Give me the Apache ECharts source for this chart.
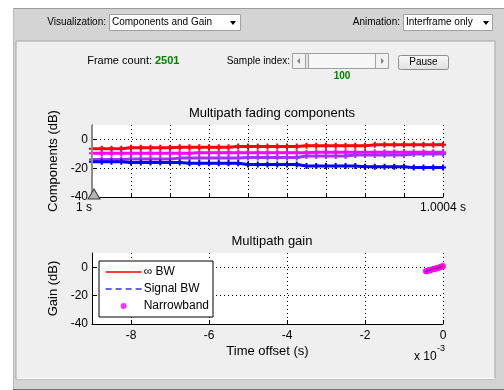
<!DOCTYPE html>
<html>
<head>
<meta charset="utf-8">
<style>
  html, body { margin: 0; padding: 0; background: #ffffff; }
  #chart { width: 504px; height: 390px; }
</style>
<script src="https://cdn.jsdelivr.net/npm/echarts@6/dist/echarts.min.js"></script>
</head>
<body>
<div id="chart"></div>
<script>
// ---- multipath fading components (dB) over the frame, sampled every quarter grid step ----
const frameStep = [0,0.25,0.5,0.75,1,1.25,1.5,1.75,2,2.25,2.5,2.75,3,3.25,3.5,3.75,4,4.25,4.5,4.75,5,5.25,5.5,5.75,6,6.25,6.5,6.75,7,7.25,7.5,7.75,8,8.25,8.5,8.75,9];
const path1Db = [-6.5,-6.5,-6.5,-6.5,-5.8,-5.8,-5.8,-5.8,-5.8,-5.4,-5.4,-5.4,-5.4,-5.4,-5.4,-4.9,-4.9,-4.9,-4.9,-4.9,-4.9,-4.9,-4.4,-4.4,-4.4,-4.4,-4.4,-4.4,-4.4,-3.8,-3.8,-3.8,-3.8,-3.8,-3.8,-3.8,-3.8];
const path2Db = [-9.6,-9.6,-9.6,-9.6,-9.6,-9.6,-9.6,-9.6,-9.6,-9.6,-9.6,-9.3,-9.3,-9.3,-9.3,-9.3,-9.3,-9.3,-9.3,-9.3,-9.3,-9.3,-9.3,-9.0,-9.0,-9.0,-9.0,-9.0,-9.0,-9.0,-9.0,-9.0,-9.0,-9.0,-9.0,-9.0,-9.0];
const path3Db = [-14.0,-14.0,-14.0,-14.0,-13.6,-13.6,-13.6,-13.6,-13.6,-13.0,-13.0,-13.0,-13.0,-13.0,-13.0,-13.0,-12.5,-12.5,-12.5,-12.5,-12.5,-12.5,-11.5,-11.5,-11.5,-11.5,-11.5,-10.8,-10.8,-10.8,-10.8,-10.8,-10.8,-10.2,-10.2,-10.2,-10.2];
const path4Db = [-15.5,-15.5,-15.5,-15.5,-16.0,-16.0,-16.0,-16.0,-16.0,-16.0,-16.6,-16.6,-16.6,-16.6,-16.6,-16.6,-17.4,-17.4,-17.4,-17.4,-17.4,-17.4,-18.5,-18.5,-18.5,-18.5,-18.5,-18.5,-19.0,-19.0,-19.0,-19.0,-19.0,-19.6,-19.6,-19.6,-19.6];
const frameTickLabels = { 0: '1 s', 9: '1.0004 s' };
const sampleMarker = 0;

// ---- multipath gain history (time offset in ms, gain in dB) ----
const gainTime = [-0.44,-0.42,-0.40,-0.38,-0.36,-0.34,-0.32,-0.30,-0.28,-0.26,-0.24,-0.22,-0.20,-0.18,-0.16,-0.14,-0.12,-0.10,-0.08,-0.06,-0.04,-0.02,0];
const gainDb   = [-2.9,-2.8,-2.6,-2.4,-2.2,-2.1,-1.9,-1.8,-1.6,-1.5,-1.3,-1.2,-1.0,-0.9,-0.7,-0.6,-0.4,-0.3,-0.1,0.1,0.3,0.6,0.9];
const gainTicks = [-8,-6,-4,-2,0];
const dbTicks = [-40,-20,0];

const pts = (xs, ys) => xs.map((x, i) => [x, ys[i]]);
const plusSymbol = 'path://M2,0H4V2H6V4H4V6H2V4H0V2H2Z';
const axisFont = { color: '#000', fontFamily: 'Liberation Sans, Arial, sans-serif', fontSize: 12 };
const uiFont = 'Liberation Sans, Arial, sans-serif';
const dotted = { show: true, lineStyle: { color: '#000', type: [1, 3], width: 1 } };

function valueAxisBase(extra) {
  return Object.assign({
    type: 'value',
    axisLine: { show: true, onZero: false, lineStyle: { color: '#000', width: 1 } },
    axisTick: { show: true, inside: true, length: 4, lineStyle: { color: '#000' } },
    axisLabel: Object.assign({ margin: 5 }, axisFont),
    splitLine: dotted,
    nameTextStyle: Object.assign({}, axisFont, { fontSize: 13 })
  }, extra);
}

const chart = echarts.init(document.getElementById('chart'), null, { renderer: 'canvas' });

const option = {
  animation: false,
  backgroundColor: '#ffffff',
  title: [
    { text: 'Multipath fading components', left: 267, top: 102, textAlign: 'center',
      textStyle: { fontFamily: uiFont, fontSize: 13, fontWeight: 'normal', color: '#000' } },
    { text: 'Multipath gain', left: 267, top: 230, textAlign: 'center',
      textStyle: { fontFamily: uiFont, fontSize: 13, fontWeight: 'normal', color: '#000' } }
  ],
  grid: [
    { left: 92, top: 125, width: 351, height: 72, show: true, backgroundColor: '#ffffff', borderWidth: 0 },
    { left: 92, top: 253, width: 351, height: 71, show: true, backgroundColor: '#ffffff', borderWidth: 0 }
  ],
  xAxis: [
    valueAxisBase({
      gridIndex: 0, min: 0, max: 9, interval: 1,
      axisLabel: Object.assign({ margin: 5, showMinLabel: true, showMaxLabel: true,
        formatter: v => frameTickLabels[v] || '', alignMinLabel: 'right' }, axisFont)
    }),
    valueAxisBase({
      gridIndex: 1, min: -9, max: 0,
      axisTick: { show: true, inside: true, length: 4, lineStyle: { color: '#000' }, customValues: gainTicks },
      axisLabel: Object.assign({ margin: 6, customValues: gainTicks }, axisFont),
      name: 'Time offset (s)', nameLocation: 'middle', nameGap: 21
    })
  ],
  yAxis: [
    valueAxisBase({
      gridIndex: 0, min: -40, max: 10,
      axisTick: { show: true, inside: true, length: 4, lineStyle: { color: '#000' }, customValues: dbTicks },
      axisLabel: Object.assign({ margin: 4, customValues: dbTicks }, axisFont),
      name: 'Components (dB)', nameLocation: 'middle', nameGap: 18, nameRotate: 90
    }),
    valueAxisBase({
      gridIndex: 1, min: -40, max: 10,
      axisTick: { show: true, inside: true, length: 4, lineStyle: { color: '#000' }, customValues: dbTicks },
      axisLabel: Object.assign({ margin: 4, customValues: dbTicks }, axisFont),
      name: 'Gain (dB)', nameLocation: 'middle', nameGap: 18, nameRotate: 90
    })
  ],
  legend: {
    data: [
      { name: '∞ BW', itemStyle: { opacity: 0 }, lineStyle: { opacity: 1 } },
      { name: 'Signal BW', itemStyle: { opacity: 0 }, lineStyle: { opacity: 1 } },
      { name: 'Narrowband' }
    ],
    orient: 'vertical', left: 99, top: 261,
    backgroundColor: '#ffffff', borderColor: '#000', borderWidth: 1, borderRadius: 0,
    padding: [5, 4, 5, 6], itemWidth: 36, itemHeight: 6, itemGap: 5,
    lineStyle: { width: 1.3, opacity: 1 },
    textStyle: { fontFamily: uiFont, fontSize: 12, color: '#000', padding: [0, 0, 0, -3] },
    selectedMode: false
  },
  series: [
    { name: 'Path 1', type: 'line', xAxisIndex: 0, yAxisIndex: 0, data: pts(frameStep, path1Db),
      color: '#ff0000', lineStyle: { width: 3 }, symbol: plusSymbol, symbolSize: 6, showAllSymbol: true,
      markLine: { silent: true, symbol: 'none', label: { show: false },
        lineStyle: { color: '#8c8c8c', width: 2, type: 'solid' }, data: [{ xAxis: sampleMarker }] },
      markPoint: { silent: true, symbol: 'triangle', symbolSize: [12, 10], symbolOffset: [2, -3],
        label: { show: false }, itemStyle: { color: '#b4b4b4', borderColor: '#3c3c3c', borderWidth: 1 },
        data: [{ coord: [sampleMarker, -40] }] } },
    { name: 'Path 2', type: 'line', xAxisIndex: 0, yAxisIndex: 0, data: pts(frameStep, path2Db),
      color: '#ff00ff', lineStyle: { width: 3 }, symbol: plusSymbol, symbolSize: 6, showAllSymbol: true },
    { name: 'Path 3', type: 'line', xAxisIndex: 0, yAxisIndex: 0, data: pts(frameStep, path3Db),
      color: '#a030ff', lineStyle: { width: 3 }, symbol: plusSymbol, symbolSize: 6, showAllSymbol: true },
    { name: 'Path 4', type: 'line', xAxisIndex: 0, yAxisIndex: 0, data: pts(frameStep, path4Db),
      color: '#0000ff', lineStyle: { width: 3 }, symbol: plusSymbol, symbolSize: 6, showAllSymbol: true },

    { name: '∞ BW', type: 'line', xAxisIndex: 1, yAxisIndex: 1, data: pts(gainTime, gainDb),
      color: '#ff0000', lineStyle: { width: 1 }, symbol: 'none' },
    { name: 'Signal BW', type: 'line', xAxisIndex: 1, yAxisIndex: 1, data: pts(gainTime, gainDb),
      color: '#3030ff', lineStyle: { width: 1, type: [6, 4] }, symbol: 'none' },
    { name: 'Narrowband', type: 'scatter', xAxisIndex: 1, yAxisIndex: 1, data: pts(gainTime, gainDb),
      color: '#ff00ff', symbol: 'circle', symbolSize: 6 }
  ],
  graphic: [
    // window chrome: outer grey frame
    { type: 'rect', z: -10, silent: true, shape: { x: 13, y: 8, width: 491, height: 382 },
      style: { fill: '#d4d4d4', stroke: null } },
    { type: 'line', z: -9, silent: true, shape: { x1: 13, y1: 8.5, x2: 504, y2: 8.5 }, style: { stroke: '#9a9a9a', lineWidth: 1 } },
    { type: 'line', z: -9, silent: true, shape: { x1: 13.5, y1: 8, x2: 13.5, y2: 390 }, style: { stroke: '#b8b8b8', lineWidth: 1 } },
    { type: 'line', z: -9, silent: true, shape: { x1: 13, y1: 389.5, x2: 504, y2: 389.5 }, style: { stroke: '#70707a', lineWidth: 1 } },
    // inner panel
    { type: 'rect', z: -9, silent: true, shape: { x: 16, y: 41, width: 479, height: 338 },
      style: { fill: '#efefef', stroke: '#a8a8a8', lineWidth: 1 } },
    { type: 'line', z: -8, silent: true, shape: { x1: 17, y1: 378.5, x2: 495, y2: 378.5 }, style: { stroke: '#ffffff', lineWidth: 1 } },

    // Visualization drop-down
    { type: 'text', silent: true, style: { x: 106, y: 22, text: 'Visualization:', align: 'right', verticalAlign: 'middle',
      font: '10px ' + uiFont, fill: '#000' } },
    { type: 'rect', silent: true, shape: { x: 109.5, y: 14.5, width: 131, height: 16 },
      style: { fill: '#ffffff', stroke: '#a0a0a0', lineWidth: 1 } },
    { type: 'text', silent: true, style: { x: 112, y: 22.5, text: 'Components and Gain', verticalAlign: 'middle',
      font: '10px ' + uiFont, fill: '#000' } },
    { type: 'polygon', silent: true, shape: { points: [[230, 21], [236, 21], [233, 25]] }, style: { fill: '#000' } },

    // Animation drop-down
    { type: 'text', silent: true, style: { x: 400, y: 22, text: 'Animation:', align: 'right', verticalAlign: 'middle',
      font: '10px ' + uiFont, fill: '#000' } },
    { type: 'rect', silent: true, shape: { x: 403.5, y: 14.5, width: 89, height: 16 },
      style: { fill: '#ffffff', stroke: '#a0a0a0', lineWidth: 1 } },
    { type: 'text', silent: true, style: { x: 406, y: 22.5, text: 'Interframe only', verticalAlign: 'middle',
      font: '10px ' + uiFont, fill: '#000' } },
    { type: 'polygon', silent: true, shape: { points: [[483, 21], [489, 21], [486, 25]] }, style: { fill: '#000' } },

    // frame counter
    { type: 'text', silent: true, style: { x: 152, y: 61, text: 'Frame count:', align: 'right', verticalAlign: 'middle',
      font: '11px ' + uiFont, fill: '#000' } },
    { type: 'text', silent: true, style: { x: 155, y: 61, text: '2501', verticalAlign: 'middle',
      font: 'bold 11px ' + uiFont, fill: '#008000' } },

    // sample index slider
    { type: 'text', silent: true, style: { x: 290, y: 61, text: 'Sample index:', align: 'right', verticalAlign: 'middle',
      font: '10px ' + uiFont, fill: '#000' } },
    { type: 'rect', silent: true, shape: { x: 292.5, y: 53.5, width: 96, height: 15 },
      style: { fill: '#f7f7f7', stroke: '#a0a0a0', lineWidth: 1 } },
    { type: 'rect', silent: true, shape: { x: 292.5, y: 53.5, width: 13, height: 15 },
      style: { fill: '#f2f2f2', stroke: '#a0a0a0', lineWidth: 1 } },
    { type: 'rect', silent: true, shape: { x: 375.5, y: 53.5, width: 13, height: 15 },
      style: { fill: '#f2f2f2', stroke: '#a0a0a0', lineWidth: 1 } },
    { type: 'rect', silent: true, shape: { x: 305.5, y: 53.5, width: 3, height: 15 },
      style: { fill: '#e6e6e6', stroke: '#a0a0a0', lineWidth: 1 } },
    { type: 'polygon', silent: true, shape: { points: [[300, 58], [300, 64], [297, 61]] }, style: { fill: '#808080' } },
    { type: 'polygon', silent: true, shape: { points: [[381, 58], [381, 64], [384, 61]] }, style: { fill: '#808080' } },
    { type: 'text', silent: true, style: { x: 342, y: 76, text: '100', align: 'center', verticalAlign: 'middle',
      font: 'bold 10px ' + uiFont, fill: '#008000' } },

    // pause button
    { type: 'rect', silent: true, shape: { x: 398.5, y: 55.5, width: 50, height: 14, r: 2 },
      style: { fill: new echarts.graphic.LinearGradient(0, 0, 0, 1, [{ offset: 0, color: '#fbfbfb' }, { offset: 1, color: '#dedede' }]),
        stroke: '#8c8c8c', lineWidth: 1 } },
    { type: 'text', silent: true, style: { x: 423.5, y: 62.5, text: 'Pause', align: 'center', verticalAlign: 'middle',
      font: '10px ' + uiFont, fill: '#000' } },

    // exponent of the time-offset axis
    { type: 'text', silent: true, style: { x: 414, y: 357, text: 'x 10', verticalAlign: 'middle',
      font: '12px ' + uiFont, fill: '#000' } },
    { type: 'text', silent: true, style: { x: 437, y: 349, text: '-3', verticalAlign: 'middle',
      font: '9px ' + uiFont, fill: '#000' } }
  ]
};

chart.setOption(option);
</script>
</body>
</html>
